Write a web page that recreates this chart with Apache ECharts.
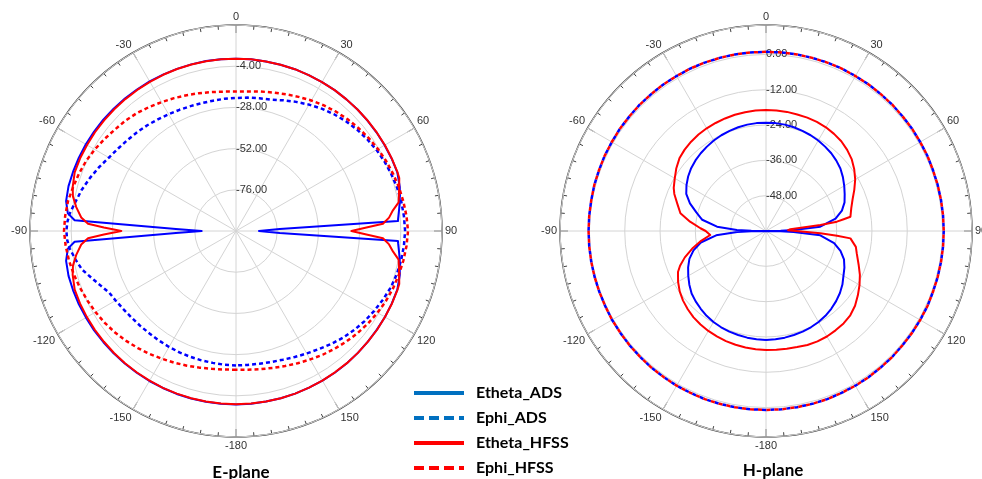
<!DOCTYPE html>
<html>
<head>
<meta charset="utf-8">
<script src="https://cdn.jsdelivr.net/npm/echarts@6/dist/echarts.min.js"></script>
<style>
html,body{margin:0;padding:0;background:#fff;}
#chart{width:982px;height:479px;}
</style>
</head>
<body>
<div id="chart"></div>
<script>
// ---------- data: [angle in degrees, value in dB] ----------
const seriesNames = ['Etheta_ADS', 'Ephi_ADS', 'Etheta_HFSS', 'Ephi_HFSS'];
const angleTicks = ['0', '30', '60', '90', '120', '150', '-180', '-150', '-120', '-90', '-60', '-30'];
const ePlaneRingLabels = ['-76.00', '-52.00', '-28.00', '-4.00'];
const hPlaneRingLabels = ['-48.00', '-36.00', '-24.00', '-12.00', '0.00'];

// E-plane
const ePlaneEthetaADS = [
  [-180, 1.0], [-175, 1.0], [-170, 1.0], [-165, 1.0], [-160, 1.0], [-155, 0.9], [-150, 0.9], [-145, 0.8],
  [-140, 0.8], [-135, 0.8], [-130, 0.8], [-125, 0.9], [-120, 0.9], [-115, 1.0], [-110, 1.0], [-105, 1.0],
  [-100, 0.5], [-96, -1.5], [-93.8, -5.8], [-91.9, -65], [-90, -80], [-88.1, -65], [-86.2, -5.8],
  [-84, -1.5], [-80, 0.5], [-75, 1.0], [-70, 1.0], [-65, 1.0], [-60, 1.0], [-55, 0.9], [-50, 0.9],
  [-45, 0.8], [-40, 0.7], [-35, 0.6], [-30, 0.6], [-25, 0.5], [-20, 0.5], [-15, 0.5], [-10, 0.5], [-5, 0.4],
  [0, 0.4], [5, 0.4], [10, 0.3], [15, 0.3], [20, 0.3], [25, 0.2], [30, 0.2], [35, 0.2], [40, 0.1], [45, 0.1],
  [50, 0], [55, 0], [60, 0], [65, 0], [70, 0], [75, -1.2], [80.5, -3.3], [85.7, -5.3], [86.5, -5.5],
  [87.4, -74.5], [90, -86.6], [92.6, -74.5], [93.5, -5.5], [94.3, -5.3], [99.5, -3.3], [105, -1.2],
  [110, 0], [115, 0.1], [120, 0.2], [125, 0.2], [130, 0.3], [135, 0.4], [140, 0.5], [145, 0.6], [150, 0.7],
  [155, 0.7], [160, 0.8], [165, 0.9], [170, 0.9], [175, 1.0], [180, 1.0]
];
const ePlaneEphiADS = [
  [-180, -21.7], [-175, -21.8], [-170, -22], [-165, -22], [-160, -22], [-155, -22], [-150, -22], [-145, -22],
  [-140, -21.9], [-135, -21.5], [-130, -21], [-125, -20.2], [-120, -19], [-116, -17.9], [-112, -15],
  [-108, -11.5], [-104, -7.5], [-100, -5], [-96, -2.6], [-93, -1.5], [-90, -1.2], [-87, -1.6], [-84, -2.6],
  [-80, -4.8], [-75, -7], [-70, -9.5], [-65, -12], [-60, -14.5], [-55, -16.2], [-50, -17.5], [-45, -18.6],
  [-40, -19.6], [-35, -20.6], [-30, -21.5], [-25, -22.1], [-20, -22.6], [-15, -22.9], [-10, -22.9],
  [-5, -22.7], [0, -22.5], [5, -22], [10, -21.5], [15, -20.8], [20, -19], [25, -17], [30, -15], [35, -13],
  [40, -11.2], [45, -9.5], [50, -8], [55, -6.7], [60, -5.5], [65, -4.5], [70, -3.6], [75, -2.8], [80, -2.2],
  [85, -1.8], [90, -1.5], [95, -1.8], [100, -2.3], [105, -3], [110, -4], [115, -5.5], [120, -7], [125, -8.5],
  [130, -10.2], [135, -12], [140, -14], [145, -16], [150, -17.6], [155, -19], [160, -20.2], [165, -21],
  [170, -21.5], [175, -21.7], [180, -21.7]
];
const ePlaneEthetaHFSS = [
  [-180, 0.9], [-175, 0.9], [-170, 0.9], [-165, 0.9], [-160, 0.8], [-155, 0.8], [-150, 0.7], [-145, 0.6],
  [-140, 0.6], [-135, 0.5], [-130, 0.4], [-125, 0.4], [-120, 0.3], [-115, 0.2], [-110, 0], [-105, -1.5],
  [-102, -2.9], [-98.5, -5.9], [-95, -9.5], [-92.8, -13.7], [-91.5, -23], [-90, -33.2], [-88.5, -23],
  [-87.2, -13.7], [-85, -9.5], [-81.5, -5.9], [-78, -2.9], [-75, -1.5], [-70, 0], [-65, 0.2], [-60, 0.2],
  [-55, 0.3], [-50, 0.3], [-45, 0.3], [-40, 0.3], [-35, 0.3], [-30, 0.3], [-25, 0.4], [-20, 0.4], [-15, 0.4],
  [-10, 0.4], [-5, 0.4], [0, 0.4], [5, 0.4], [10, 0.3], [15, 0.3], [20, 0.3], [25, 0.2], [30, 0.2],
  [35, 0.2], [40, 0.1], [45, 0.1], [50, 0.1], [55, 0.1], [60, 0.1], [65, 0.1], [70, 0.1], [72, 0],
  [75, -1.6], [78, -3], [80, -3.8], [82.5, -7.8], [85, -10.5], [87.2, -14.3], [88.5, -24], [90, -32.8],
  [91.5, -24], [92.8, -14.3], [95, -10.5], [97.5, -7.7], [100, -3.8], [102, -3], [105, -1.6], [108, 0],
  [110, 0.1], [115, 0.2], [120, 0.2], [125, 0.3], [130, 0.3], [135, 0.4], [140, 0.5], [145, 0.5],
  [150, 0.6], [155, 0.7], [160, 0.8], [165, 0.9], [170, 0.9], [175, 0.9], [180, 0.9]
];
const ePlaneEphiHFSS = [
  [-180, -19.2], [-175, -19], [-170, -18.5], [-165, -17.6], [-160, -16.5], [-155, -15.3], [-150, -14],
  [-145, -12.5], [-140, -11], [-135, -9.5], [-130, -8], [-125, -6.7], [-120, -5.5], [-115, -4.4],
  [-110, -3.3], [-105, -2.2], [-100, -1.2], [-95, -0.4], [-90, 0.2], [-85, -0.1], [-80, -0.6], [-75, -1.7],
  [-70, -2.6], [-65, -3.6], [-60, -5], [-55, -6.5], [-50, -8], [-45, -9], [-40, -10.3], [-35, -11.8],
  [-30, -13.3], [-25, -14.6], [-20, -15.8], [-15, -16.9], [-10, -17.8], [-5, -18.5], [0, -18.8],
  [5, -18.4], [10, -17.5], [15, -16.5], [20, -15.2], [25, -13.8], [30, -12.2], [35, -10.7], [40, -9.3],
  [45, -8], [50, -6.8], [55, -5.6], [60, -4.5], [65, -3.5], [70, -2.6], [75, -1.7], [80, -1], [85, -0.3],
  [90, 0.2], [95, -0.3], [100, -1], [105, -1.8], [110, -2.6], [115, -3.6], [120, -4.8], [125, -6.1],
  [130, -7.5], [135, -9], [140, -10.5], [145, -12], [150, -13.6], [155, -15], [160, -16.3], [165, -17.4],
  [170, -18.3], [175, -18.9], [180, -19.2]
];

// H-plane
const hPlaneEthetaADS = [
  [-180, -23.0], [-175, -23.1], [-170, -23.2], [-165, -23.4], [-160, -23.6], [-155, -23.9], [-150, -24.3],
  [-145, -24.8], [-140, -25.5], [-135, -26.2], [-130, -27], [-125, -28.2], [-120, -29.5], [-115, -30.8],
  [-110, -32.3], [-105, -34.5], [-100, -37.5], [-95, -43], [-92, -50.2], [-91, -55], [-90, -60],
  [-89, -55], [-88, -50.1], [-85, -43.3], [-80, -38], [-75, -35.5], [-70, -32.5], [-65, -30.1],
  [-60, -28.8], [-55, -27.7], [-50, -26.8], [-45, -26.1], [-40, -25.5], [-35, -25], [-30, -24.5],
  [-25, -24.1], [-20, -23.8], [-15, -23.5], [-10, -23.3], [-5, -23.2], [0, -23.2], [5, -23.2], [10, -23.3],
  [15, -23.5], [20, -23.8], [25, -24.1], [30, -24.5], [35, -25], [40, -25.5], [45, -26.2], [50, -27],
  [55, -28.1], [60, -29.3], [65, -30.5], [70, -31.6], [75, -33.3], [80, -36], [85.5, -41.5], [88, -50.6],
  [89, -55], [90, -60], [91, -55], [92, -50.6], [94.5, -41.5], [100, -36.5], [105, -33.8], [110, -31.8],
  [115, -30.6], [120, -29.6], [125, -28.3], [130, -27.2], [135, -26.3], [140, -25.5], [145, -24.8],
  [150, -24.3], [155, -23.9], [160, -23.6], [165, -23.4], [170, -23.2], [175, -23.1], [180, -23.0]
];
const hPlaneEthetaHFSS = [
  [-180, -19.6], [-175, -19.7], [-170, -19.8], [-165, -20], [-160, -20.2], [-155, -20.5], [-150, -20.8],
  [-145, -21.2], [-140, -21.7], [-135, -22.4], [-130, -23.2], [-125, -24.2], [-120, -25.5], [-115, -27],
  [-112, -28.5], [-108, -31], [-103, -34.5], [-99, -37.4], [-94.1, -41], [-90, -39.5], [-87.6, -37.7],
  [-83, -34], [-78.3, -30.3], [-73, -28.5], [-68, -26.4], [-65, -25.4], [-60, -24.2], [-55, -22.8],
  [-50, -21.6], [-45, -20.9], [-40, -20.4], [-35, -20], [-30, -19.7], [-25, -19.5], [-20, -19.3],
  [-15, -19.1], [-10, -19], [-5, -18.9], [0, -18.9], [5, -18.9], [10, -18.9], [15, -19], [20, -19],
  [25, -19.1], [30, -19.3], [35, -19.7], [40, -20.2], [45, -21], [50, -22], [55, -23.4], [60, -25],
  [65, -26.9], [70, -28.7], [75, -30], [80.4, -30.9], [81.4, -33.3], [82.5, -35.7], [83.7, -41.4],
  [86, -51.7], [88, -52.5], [90, -52], [92.4, -41.5], [93.8, -35.8], [95, -31.2], [100, -29], [104, -28.2],
  [110, -26.5], [115, -24.8], [120, -23.3], [125, -21.9], [130, -20.5], [135, -19.5], [140, -19],
  [145, -18.8], [150, -18.6], [155, -18.6], [160, -18.8], [165, -19.2], [170, -19.4], [175, -19.5],
  [180, -19.6]
];
const hPlaneEphiADS = [
  [-180, 0.8], [-175, 0.8], [-170, 0.8], [-165, 0.8], [-160, 0.8], [-155, 0.7], [-150, 0.7], [-145, 0.6],
  [-140, 0.6], [-135, 0.5], [-130, 0.5], [-125, 0.4], [-120, 0.4], [-115, 0.3], [-110, 0.3], [-105, 0.3],
  [-100, 0.3], [-95, 0.3], [-90, 0.3], [-85, 0.3], [-80, 0.3], [-75, 0.4], [-70, 0.4], [-65, 0.5],
  [-60, 0.5], [-55, 0.6], [-50, 0.6], [-45, 0.7], [-40, 0.7], [-35, 0.8], [-30, 0.8], [-25, 0.9],
  [-20, 0.9], [-15, 0.9], [-10, 0.9], [-5, 0.9], [0, 0.9], [5, 0.9], [10, 0.9], [15, 0.9], [20, 0.9],
  [25, 0.9], [30, 0.8], [35, 0.8], [40, 0.7], [45, 0.7], [50, 0.6], [55, 0.6], [60, 0.5], [65, 0.5],
  [70, 0.4], [75, 0.4], [80, 0.4], [85, 0.4], [90, 0.4], [95, 0.4], [100, 0.4], [105, 0.4], [110, 0.4],
  [115, 0.5], [120, 0.5], [125, 0.5], [130, 0.5], [135, 0.6], [140, 0.6], [145, 0.7], [150, 0.7],
  [155, 0.7], [160, 0.8], [165, 0.8], [170, 0.8], [175, 0.8], [180, 0.8]
];
const hPlaneEphiHFSS = [
  [-180, 0.8], [-175, 0.8], [-170, 0.8], [-165, 0.8], [-160, 0.8], [-155, 0.7], [-150, 0.7], [-145, 0.6],
  [-140, 0.6], [-135, 0.5], [-130, 0.5], [-125, 0.4], [-120, 0.4], [-115, 0.3], [-110, 0.3], [-105, 0.3],
  [-100, 0.3], [-95, 0.3], [-90, 0.3], [-85, 0.3], [-80, 0.3], [-75, 0.4], [-70, 0.4], [-65, 0.5],
  [-60, 0.5], [-55, 0.6], [-50, 0.6], [-45, 0.7], [-40, 0.7], [-35, 0.8], [-30, 0.8], [-25, 0.9],
  [-20, 0.9], [-15, 0.9], [-10, 0.9], [-5, 0.9], [0, 0.9], [5, 0.9], [10, 0.9], [15, 0.9], [20, 0.9],
  [25, 0.9], [30, 0.8], [35, 0.8], [40, 0.7], [45, 0.7], [50, 0.6], [55, 0.6], [60, 0.5], [65, 0.5],
  [70, 0.4], [75, 0.4], [80, 0.4], [85, 0.4], [90, 0.4], [95, 0.4], [100, 0.4], [105, 0.4], [110, 0.4],
  [115, 0.5], [120, 0.5], [125, 0.5], [130, 0.5], [135, 0.6], [140, 0.6], [145, 0.7], [150, 0.7],
  [155, 0.7], [160, 0.8], [165, 0.8], [170, 0.8], [175, 0.8], [180, 0.8]
];

// ---------- chart ----------
const E_FLOOR = -100, E_TOP = 20;   // dB range of E-plane radius
const H_FLOOR = -60, H_TOP = 10;    // dB range of H-plane radius

function toPolar(arr, floor) {
  return arr.map(function (p) {
    const a = p[0] < 0 ? p[0] + 360 : p[0];
    return [Math.max(p[1], floor) - floor, a];
  });
}

const BLUE = '#0000FF', RED = '#FF0000', LEG_BLUE = '#0070C0';
const RING = '#404040', GRID = '#d4d4d4';
const labelFont = "'Liberation Sans', Arial, sans-serif";

function angleAxis(idx) {
  return {
    polarIndex: idx, type: 'value', min: 0, max: 360, interval: 30,
    startAngle: 90, clockwise: true,
    axisLine: { show: true, lineStyle: { color: RING, width: 1.5 } },
    axisTick: { show: true, inside: true, length: 8, lineStyle: { color: RING, width: 1 } },
    minorTick: { show: true, splitNumber: 6, length: 4, lineStyle: { color: RING, width: 1 } },
    splitLine: { show: true, lineStyle: { color: GRID, width: 1 } },
    axisLabel: {
      margin: 3, fontSize: 11, color: '#333', fontFamily: labelFont,
      formatter: function (v) { return angleTicks[Math.round(v / 30) % 12]; }
    }
  };
}

function radiusAxis(idx, floor, top, interval, labels) {
  return {
    polarIndex: idx, type: 'value', min: 0, max: top - floor, interval: interval,
    axisLine: { show: false }, axisTick: { show: false },
    splitLine: { show: true, lineStyle: { color: GRID, width: 1 } },
    axisLabel: {
      margin: 0, align: 'left', verticalAlign: 'middle', padding: [0, 0, 6, 0],
      fontSize: 11, color: '#333', fontFamily: labelFont,
      formatter: function (v) {
        const k = Math.round(v / interval) - 1;
        return (k >= 0 && k < labels.length && Math.abs(v - (k + 1) * interval) < 1e-6) ? labels[k] : '';
      }
    },
    z: 3
  };
}

function line(name, data, floor, polarIndex, color, type, width, dashOffset) {
  return {
    name: name, type: 'line', coordinateSystem: 'polar', polarIndex: polarIndex,
    data: toPolar(data, floor), symbol: 'none', smooth: false, silent: true,
    lineStyle: { color: color, width: width, type: type, dashOffset: dashOffset || 0, cap: 'butt', join: 'round' },
    itemStyle: { color: color }
  };
}

const chart = echarts.init(document.getElementById('chart'), null, { renderer: 'canvas' });
chart.setOption({
  backgroundColor: '#fff',
  animation: false,
  title: [
    { text: 'E-plane', left: 236, top: 459, textAlign: 'center',
      textStyle: { fontFamily: 'Lato, sans-serif', fontWeight: 'bold', fontSize: 17, color: '#000' } },
    { text: 'H-plane', left: 768, top: 457, textAlign: 'center',
      textStyle: { fontFamily: 'Lato, sans-serif', fontWeight: 'bold', fontSize: 17, color: '#000' } }
  ],
  legend: {
    orient: 'vertical', left: 412, top: 385, padding: 0, itemWidth: 50, itemHeight: 14, itemGap: 9,
    selectedMode: false,
    textStyle: { fontFamily: 'Lato, sans-serif', fontWeight: 'bold', fontSize: 16, color: '#000', padding: [0, 0, 0, 7] },
    data: [
      { name: seriesNames[0], itemStyle: { opacity: 0 }, lineStyle: { color: LEG_BLUE, width: 4, type: 'solid' } },
      { name: seriesNames[1], itemStyle: { opacity: 0 }, lineStyle: { color: LEG_BLUE, width: 4, type: [10, 5] } },
      { name: seriesNames[2], itemStyle: { opacity: 0 }, lineStyle: { color: RED, width: 4, type: 'solid' } },
      { name: seriesNames[3], itemStyle: { opacity: 0 }, lineStyle: { color: RED, width: 4, type: [10, 5] } }
    ]
  },
  polar: [
    { center: [236, 231], radius: 206 },
    { center: [766, 231], radius: 206 }
  ],
  angleAxis: [angleAxis(0), angleAxis(1)],
  radiusAxis: [
    radiusAxis(0, E_FLOOR, E_TOP, 24, ePlaneRingLabels),
    radiusAxis(1, H_FLOOR, H_TOP, 12, hPlaneRingLabels)
  ],
  series: [
    line(seriesNames[0], ePlaneEthetaADS, E_FLOOR, 0, BLUE, 'solid', 2),
    line(seriesNames[1], ePlaneEphiADS, E_FLOOR, 0, BLUE, [4, 3], 2.5),
    line(seriesNames[2], ePlaneEthetaHFSS, E_FLOOR, 0, RED, 'solid', 2),
    line(seriesNames[3], ePlaneEphiHFSS, E_FLOOR, 0, RED, [4, 3], 2.5),
    line(seriesNames[0], hPlaneEthetaADS, H_FLOOR, 1, BLUE, 'solid', 2),
    line(seriesNames[1], hPlaneEphiADS, H_FLOOR, 1, BLUE, [4, 4], 2.5, 0),
    line(seriesNames[2], hPlaneEthetaHFSS, H_FLOOR, 1, RED, 'solid', 2),
    line(seriesNames[3], hPlaneEphiHFSS, H_FLOOR, 1, RED, [4, 4], 2.5, 4)
  ]
});
</script>
</body>
</html>
